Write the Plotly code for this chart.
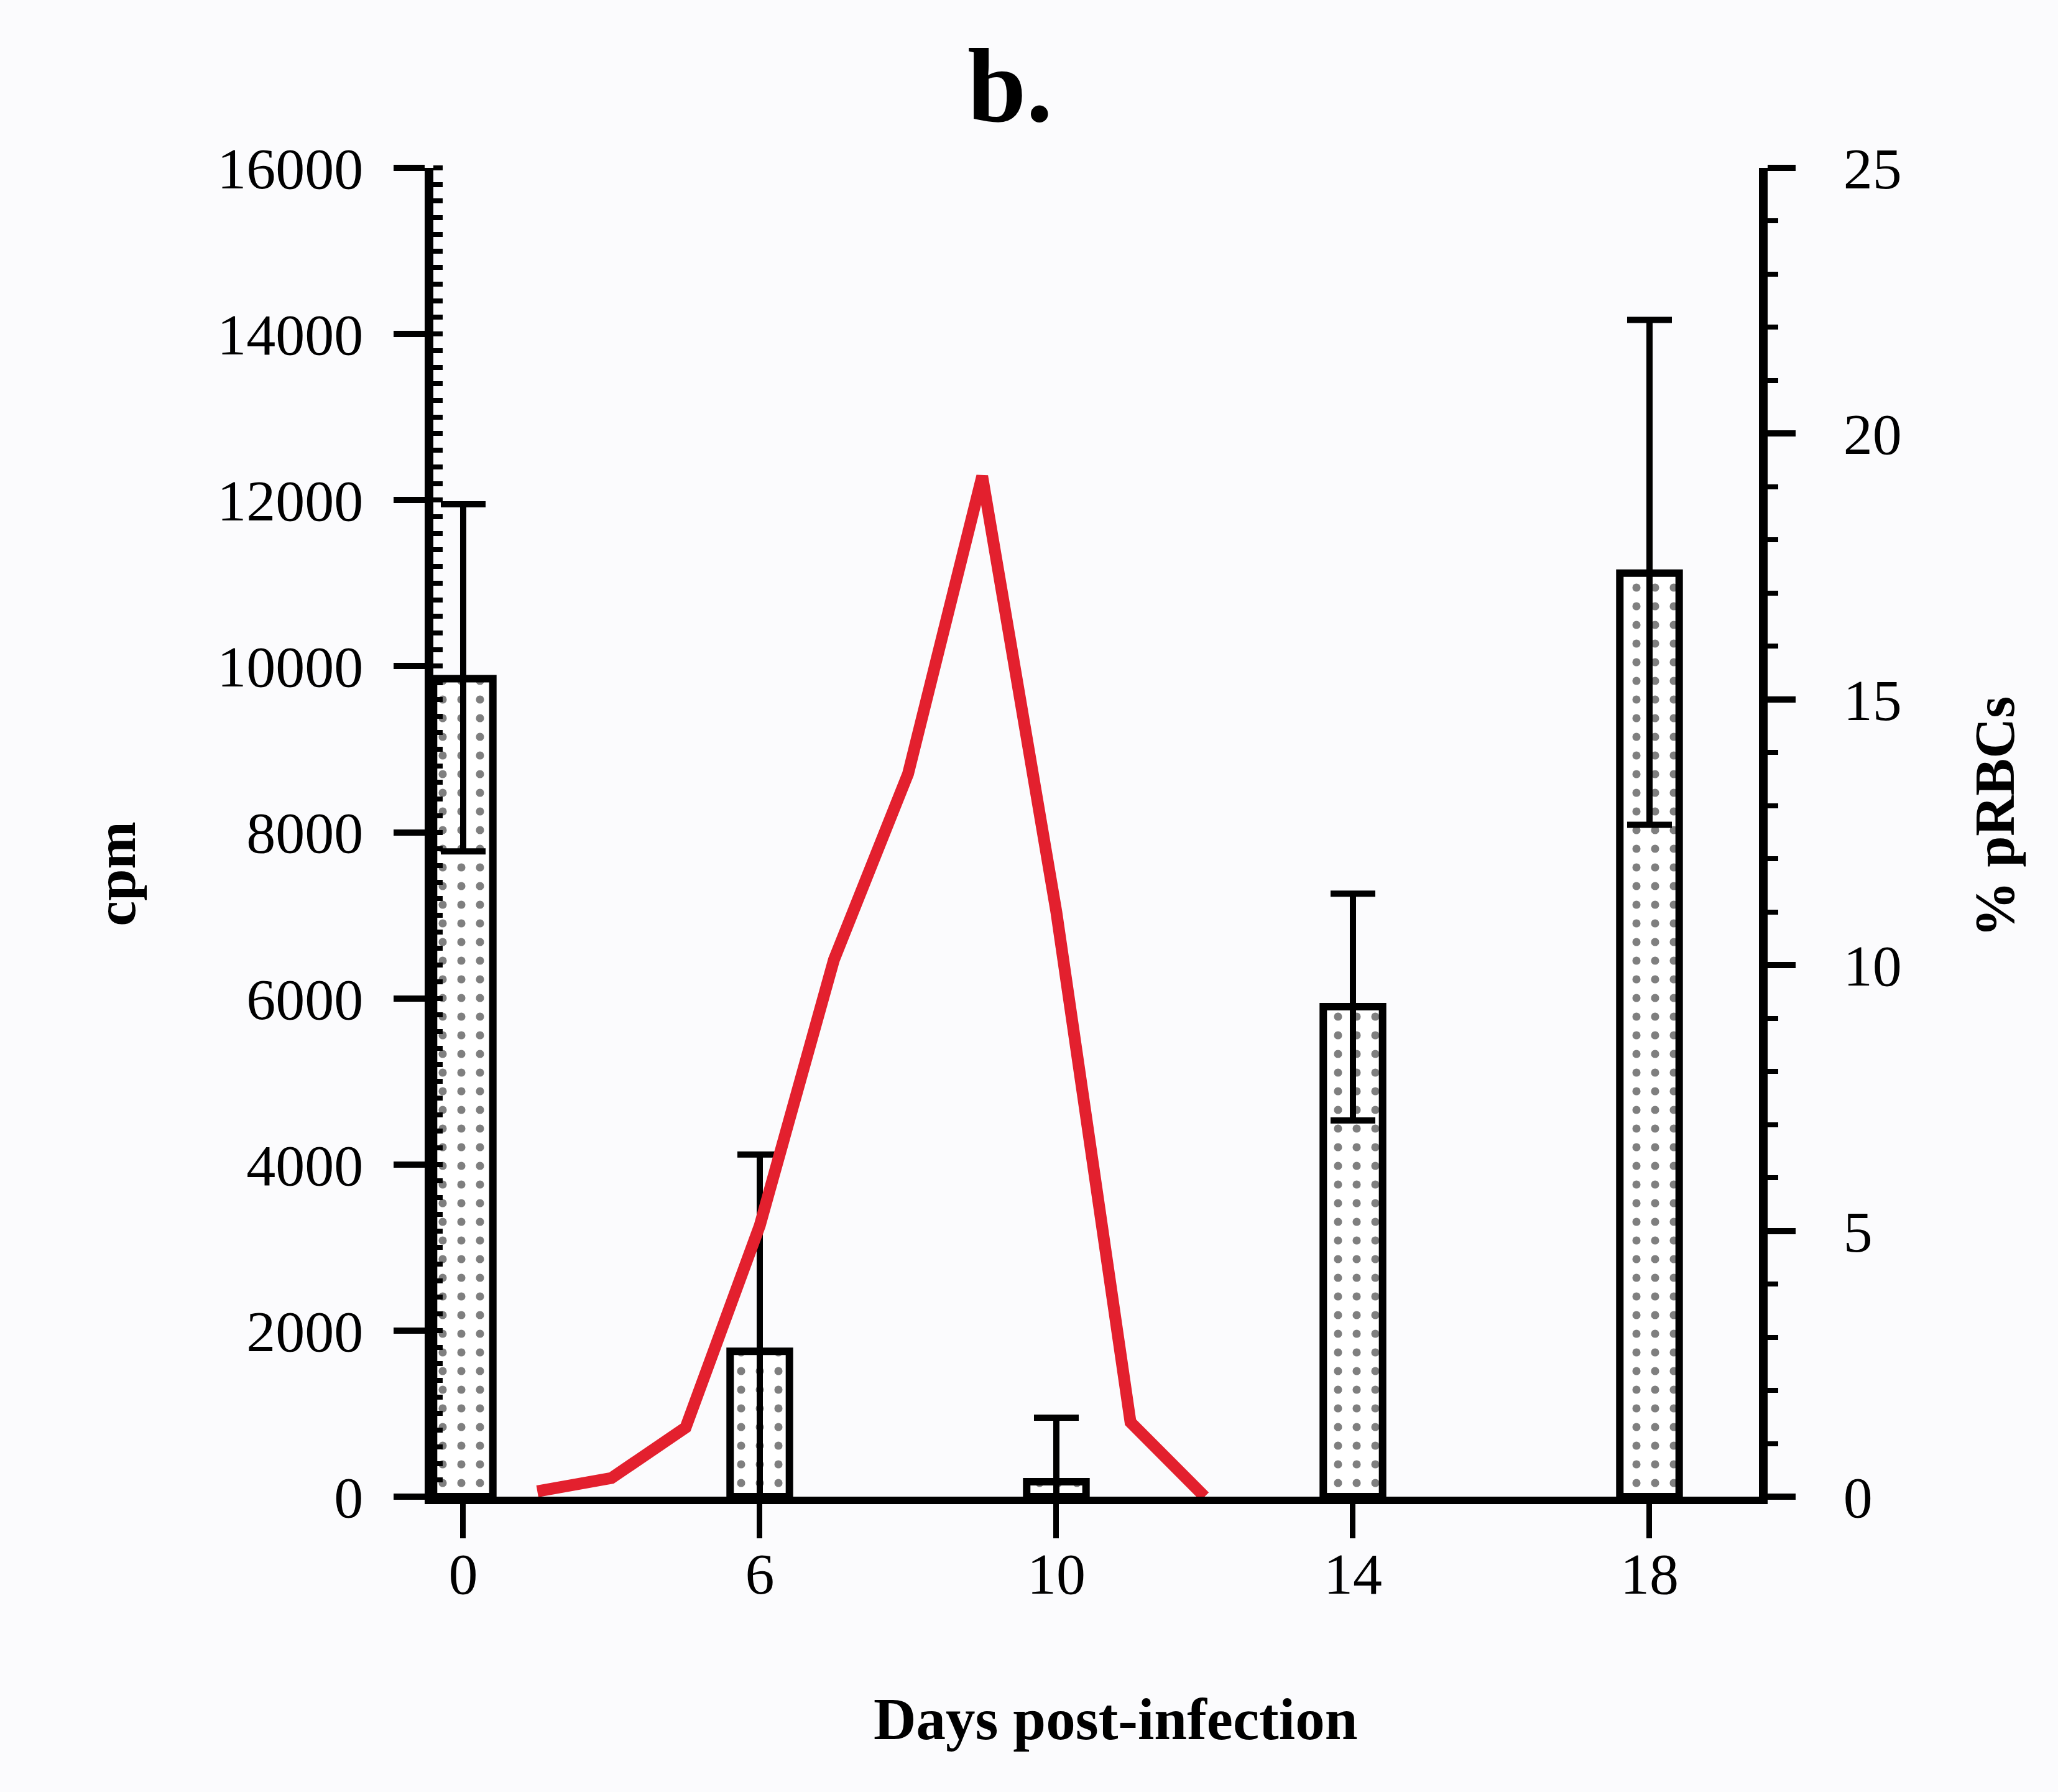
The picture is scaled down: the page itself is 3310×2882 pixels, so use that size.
import plotly.graph_objects as go

# ---- data ----
day_labels = ["0", "6", "10", "14", "18"]          # bar categories (days post-infection)
cpm_mean = [9850, 1750, 180, 5900, 11120]            # cpm (left axis)
cpm_err_plus = [2100, 2370, 770, 1360, 3050]
cpm_err_minus = [2080, 1750, 180, 1370, 3030]

prbc_days = [3, 4, 5, 6, 7, 8, 9, 10, 11, 12]        # parasitaemia curve (days)
prbc_pct = [0.1, 0.35, 1.3, 5.1, 10.1, 13.6, 19.2, 11.0, 1.4, 0.0]   # % pRBCs (right axis)

left_ticks = [0, 2000, 4000, 6000, 8000, 10000, 12000, 14000, 16000]
right_ticks = [0, 5, 10, 15, 20, 25]

FONT = "Liberation Serif, Times New Roman, serif"
W, H = 3310, 2882
ML, MR, MT, MB = 697, 481, 270, 475

cat_range = [-0.1006, 4.369]
# day scale of the curve: label spacing = 4 days, category "6" sits at day 6
day_range = [2 + 4 * cat_range[0], 2 + 4 * cat_range[1]]

fig = go.Figure()

fig.add_trace(go.Bar(
    x=day_labels, y=cpm_mean, width=0.2,
    marker=dict(
        color="white",
        line=dict(color="black", width=12),
        pattern=dict(shape=".", fgcolor="black", bgcolor="white", size=30, solidity=0.15),
    ),
    error_y=dict(type="data", symmetric=False, array=cpm_err_plus, arrayminus=cpm_err_minus,
                 color="black", thickness=10, width=36),
    showlegend=False,
))

fig.add_trace(go.Scatter(
    x=prbc_days, y=prbc_pct, xaxis="x2", yaxis="y2", mode="lines",
    line=dict(color="#e3202e", width=19), showlegend=False,
))

tickfont = dict(family=FONT, size=94, color="black")

fig.update_layout(
    width=W, height=H,
    margin=dict(l=ML, r=MR, t=MT, b=MB, pad=0),
    paper_bgcolor="#fbfbfd", plot_bgcolor="rgba(0,0,0,0)",
    font=dict(family=FONT, color="black"),
    xaxis=dict(
        type="category", range=cat_range, showgrid=False, zeroline=False,
        showline=True, linecolor="black", linewidth=12,
        ticks="outside", ticklen=55, tickwidth=9, tickcolor="black",
        tickfont=tickfont, ticklabelstandoff=-24,
    ),
    xaxis2=dict(overlaying="x", range=day_range, visible=False),
    yaxis=dict(
        range=[0, 16000], tickvals=left_ticks, ticktext=[str(v) for v in left_ticks],
        showgrid=False, zeroline=False,
        showline=True, linecolor="black", linewidth=14,
        ticks="outside", ticklen=50, tickwidth=10, tickcolor="black",
        tickfont=tickfont, ticklabelstandoff=30,
        minor=dict(dtick=200, tick0=0, ticks="inside", ticklen=15, tickwidth=8,
                   tickcolor="black", showgrid=False),
    ),
    yaxis2=dict(
        overlaying="y", side="right", range=[0, 25],
        tickvals=right_ticks, ticktext=[str(v) for v in right_ticks],
        showgrid=False, zeroline=False,
        showline=True, linecolor="black", linewidth=14,
        ticks="outside", ticklen=45, tickwidth=10, tickcolor="black",
        tickfont=tickfont, ticklabelstandoff=58,
        minor=dict(dtick=1, tick0=0, ticks="outside", ticklen=17, tickwidth=8,
                   tickcolor="black", showgrid=False),
    ),
    annotations=[
        dict(text="<b>b.</b>", xref="paper", yref="paper", x=0.435, y=1.062,
             xanchor="center", yanchor="middle", showarrow=False,
             font=dict(family=FONT, size=170, color="black")),
        dict(text="<b>cpm</b>", xref="paper", yref="paper", x=-0.2397, y=0.469,
             xanchor="center", yanchor="middle", textangle=-90, showarrow=False,
             font=dict(family=FONT, size=92, color="black")),
        dict(text="<b>% pRBCs</b>", xref="paper", yref="paper", x=1.178, y=0.512,
             xanchor="center", yanchor="middle", textangle=-90, showarrow=False,
             font=dict(family=FONT, size=90, color="black")),
        dict(text="<b>Days post-infection</b>", xref="paper", yref="paper", x=0.5146, y=-0.1675,
             xanchor="center", yanchor="middle", showarrow=False,
             font=dict(family=FONT, size=95, color="black")),
    ],
)

fig.write_html("out.html")
